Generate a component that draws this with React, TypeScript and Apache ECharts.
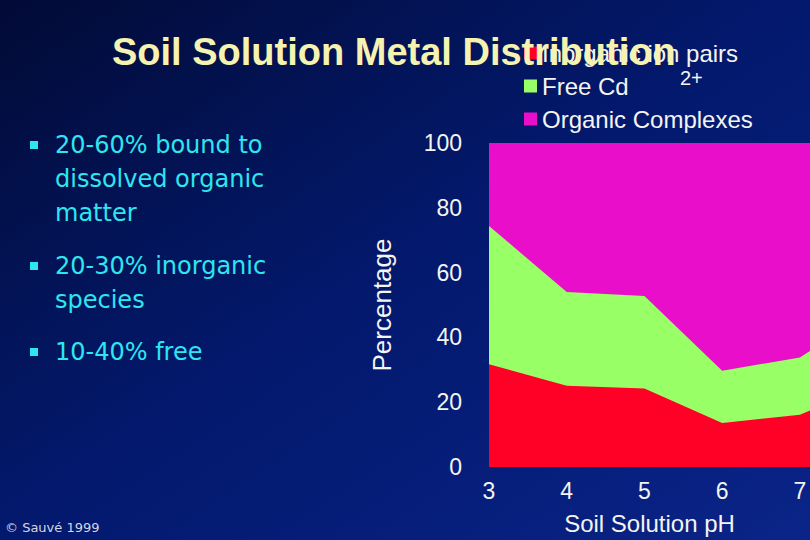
import { useEffect, useRef } from "react";
import * as echarts from "echarts";

// soil solution pH (last point is where the slide crops the plot)
const phValues = [3, 4, 5, 6, 7, 7.13];
// % of dissolved Cd in each form
const inorganicPairs = [31.7, 25.1, 24.2, 13.6, 16.1, 17.4];
const freeCd = [42.7, 28.9, 28.6, 16.1, 17.7, 18.4];
const organicComplexes = [25.6, 46.0, 47.2, 70.3, 66.2, 64.2];

const seriesNames = ["Inorganic ion pairs", "Free Cd", "Organic Complexes"];
const seriesColors = ["#ff0026", "#99ff66", "#e90ec9"];

const bullets = [
  "20-60% bound to\ndissolved organic\nmatter",
  "20-30% inorganic\nspecies",
  "10-40% free",
];

const SANS = "'Liberation Sans', Arial, sans-serif";
const TAHOMA = "'DejaVu Sans', Tahoma, sans-serif";

function MetalChart() {
  const ref = useRef<HTMLDivElement>(null);

  useEffect(() => {
    if (!ref.current) return;
    const chart = echarts.init(ref.current, undefined, { renderer: "svg" });

    // stacked by hand: each band is filled from 0 up to its running total,
    // the higher totals drawn first so the lower bands sit on top
    const layers = [inorganicPairs, freeCd, organicComplexes];
    const running = phValues.map(() => 0);
    const tops = layers.map((vals) =>
      vals.map((v, i) => {
        running[i] += v;
        return [phValues[i], +running[i].toFixed(1)];
      })
    );
    const allSeries = [2, 1, 0].map((k) => ({
      name: seriesNames[k],
      type: "line",
      data: tops[k],
      symbol: "none",
      lineStyle: { width: 0 },
      itemStyle: { color: seriesColors[k] },
      areaStyle: { color: seriesColors[k], opacity: 1 },
    }));

    // bullets on the left: first-line centres at 145, 266, 352
    const bulletTops = [145, 266, 352];
    const bulletEls: any[] = [];
    bullets.forEach((b, i) => {
      bulletEls.push({
        type: "rect",
        shape: { x: 30, y: bulletTops[i] - 4, width: 8, height: 8 },
        style: { fill: "#2ee6f0" },
      });
      bulletEls.push({
        type: "text",
        x: 55,
        y: bulletTops[i] - 17,
        style: {
          text: b,
          fill: "#2ee6f0",
          font: `24px ${TAHOMA}`,
          lineHeight: 34,
          verticalAlign: "top",
        },
      });
    });

    chart.setOption({
      animation: false,
      backgroundColor: {
        type: "linear",
        x: 0, y: 0, x2: 1, y2: 1,
        colorStops: [
          { offset: 0, color: "#020b36" },
          { offset: 0.5, color: "#03196e" },
          { offset: 1, color: "#0a2488" },
        ],
      },
      legend: {
        orient: "vertical",
        left: 524,
        top: 40,
        padding: 0,
        icon: "rect",
        itemWidth: 13,
        itemHeight: 13,
        itemGap: 7,
        data: seriesNames,
        textStyle: { color: "#f4f4f0", fontSize: 24, fontFamily: SANS, lineHeight: 26 },
      },
      grid: { left: 489, right: 0, top: 143, bottom: 72 },
      xAxis: {
        type: "value",
        min: 3,
        max: 7.13,
        interval: 1,
        name: "Soil Solution pH",
        nameLocation: "middle",
        nameGap: 44,
        nameTextStyle: { color: "#f4f4f0", fontSize: 24, fontFamily: SANS },
        axisLine: { show: false },
        axisTick: { show: false },
        splitLine: { show: false },
        axisLabel: {
          color: "#f4f4f0",
          fontSize: 23,
          fontFamily: SANS,
          margin: 12,
          showMaxLabel: false,
        },
      },
      yAxis: {
        type: "value",
        min: 0,
        max: 100,
        interval: 20,
        name: "Percentage",
        nameLocation: "middle",
        nameGap: 94,
        nameTextStyle: { color: "#f4f4f0", fontSize: 26, fontFamily: SANS },
        axisLine: { show: false },
        axisTick: { show: false },
        splitLine: { show: false },
        axisLabel: { color: "#f4f4f0", fontSize: 23, fontFamily: SANS, margin: 27 },
      },
      series: allSeries,
      graphic: [
        ...bulletEls,
        {
          type: "text",
          x: 680,
          y: 78,
          z: 50,
          style: {
            text: "2+",
            fill: "#f4f4f0",
            font: `20px ${SANS}`,
            verticalAlign: "middle",
          },
        },
        {
          type: "text",
          x: 112,
          y: 52,
          z: 100,
          style: {
            text: "Soil Solution Metal Distribution",
            fill: "#f6f2b0",
            font: `bold 38px ${SANS}`,
            verticalAlign: "middle",
            textShadowColor: "#3a3a3a",
            textShadowOffsetX: 2,
            textShadowOffsetY: 2,
          },
        },
        {
          type: "text",
          x: 5,
          y: 527,
          style: {
            text: "© Sauvé 1999",
            fill: "#d4d6e4",
            font: `13px ${TAHOMA}`,
            verticalAlign: "middle",
          },
        },
      ],
    });

    return () => chart.dispose();
  }, []);

  return (
    <div
      ref={ref}
      style={{ position: "fixed", left: 0, top: 0, width: 810, height: 540 }}
    />
  );
}

export default function App() {
  return <MetalChart />;
}
